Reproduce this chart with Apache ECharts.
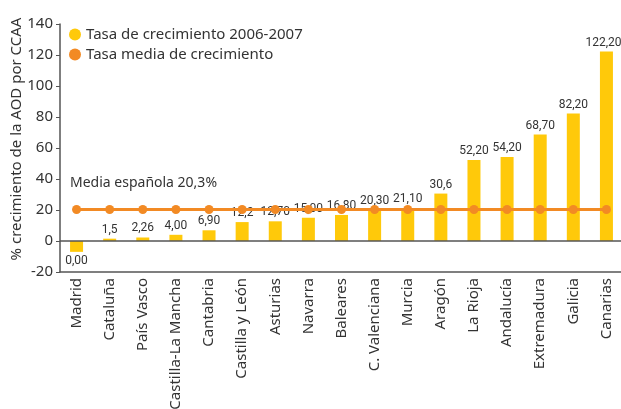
<!DOCTYPE html>
<html>
<head>
<meta charset="utf-8">
<script src="https://cdn.jsdelivr.net/npm/echarts@6/dist/echarts.min.js"></script>
<style>
  html, body { margin: 0; padding: 0; background: #fff; }
  #chart { width: 621px; height: 409px; }
</style>
</head>
<body>
<div id="chart"></div>
<script>
const regions = ['Madrid', 'Cataluña', 'País Vasco', 'Castilla-La Mancha', 'Cantabria', 'Castilla y León',
  'Asturias', 'Navarra', 'Baleares', 'C. Valenciana', 'Murcia', 'Aragón', 'La Rioja', 'Andalucía',
  'Extremadura', 'Galicia', 'Canarias']
// bar heights as drawn
const growth = [-7, 1.5, 2.26, 4.0, 6.9, 12.2, 12.7, 15.0, 16.8, 20.3, 21.1, 30.6, 52.2, 54.2, 68.7, 82.2, 122.2]
// labels as printed in the source
const growthLabels = ['0,00', '1,5', '2,26', '4,00', '6,90', '12,2', '12,70', '15,00', '16,80', '20,30',
  '21,10', '30,6', '52,20', '54,20', '68,70', '82,20', '122,20']
const meanRate = [20.3, 20.3, 20.3, 20.3, 20.3, 20.3, 20.3, 20.3, 20.3, 20.3, 20.3, 20.3, 20.3, 20.3, 20.3, 20.3, 20.3]
const yTicks = { min: -20, max: 140, interval: 20 }

const txt = '#333'
const main = "'Noto Sans', sans-serif"
const narrow = "Roboto, sans-serif"

const chart = echarts.init(document.getElementById('chart'))

const barData = growth.map((v, i) => {
  if (v < 0) return { value: v, label: { position: 'bottom' } }
  if (i === growth.length - 1) return { value: v, label: { offset: [-3, 0] } }
  return v
})

chart.setOption({
  animation: false,
  textStyle: { fontFamily: main },
  grid: { left: 60, right: -2, top: 24, bottom: 137, outerBoundsMode: 'none' },
  legend: {
    left: 64, top: 22, orient: 'vertical', itemGap: 5,
    icon: 'circle', itemWidth: 12, itemHeight: 12,
    textStyle: { fontSize: 15, color: txt },
    data: ['Tasa de crecimiento 2006-2007', 'Tasa media de crecimiento']
  },
  graphic: [
    {
      type: 'text', left: 70, top: 176,
      style: { text: 'Media española 20,3%', fontSize: 14, fill: txt, fontFamily: main }
    },
    {
      type: 'text', x: 17, y: 139, rotation: Math.PI / 2,
      style: {
        text: '% crecimiento de la AOD por CCAA', fontSize: 15, fill: txt, fontFamily: main,
        align: 'center', verticalAlign: 'middle'
      }
    }
  ],
  xAxis: {
    type: 'category', data: regions,
    axisLine: { onZero: false, lineStyle: { color: '#555', width: 1.5 } },
    axisTick: { show: false },
    axisLabel: { rotate: 90, fontSize: 15, color: txt, margin: 6, interval: 0 }
  },
  yAxis: {
    type: 'value', min: yTicks.min, max: yTicks.max, interval: yTicks.interval,
    axisLine: { show: true, lineStyle: { color: '#555', width: 1.5 } },
    axisTick: { show: true, length: 4, lineStyle: { color: '#555' } },
    axisLabel: { fontSize: 15, color: txt, margin: 7 },
    splitLine: { show: false }
  },
  series: [
    {
      name: 'Tasa de crecimiento 2006-2007',
      type: 'bar', barWidth: 13,
      data: barData,
      itemStyle: { color: '#FFC90A' },
      label: {
        show: true, position: 'top', distance: 3,
        color: txt, fontSize: 12, fontFamily: narrow,
        formatter: p => growthLabels[p.dataIndex]
      },
      markLine: {
        silent: true, symbol: 'none', label: { show: false },
        lineStyle: { color: '#555', width: 1.5, type: 'solid' },
        data: [{ yAxis: 0 }]
      }
    },
    {
      name: 'Tasa media de crecimiento',
      type: 'line', data: meanRate,
      symbol: 'circle', symbolSize: 9,
      itemStyle: { color: '#F28A24' },
      lineStyle: { color: '#F28A24', width: 3 }
    }
  ]
})
</script>
</body>
</html>
